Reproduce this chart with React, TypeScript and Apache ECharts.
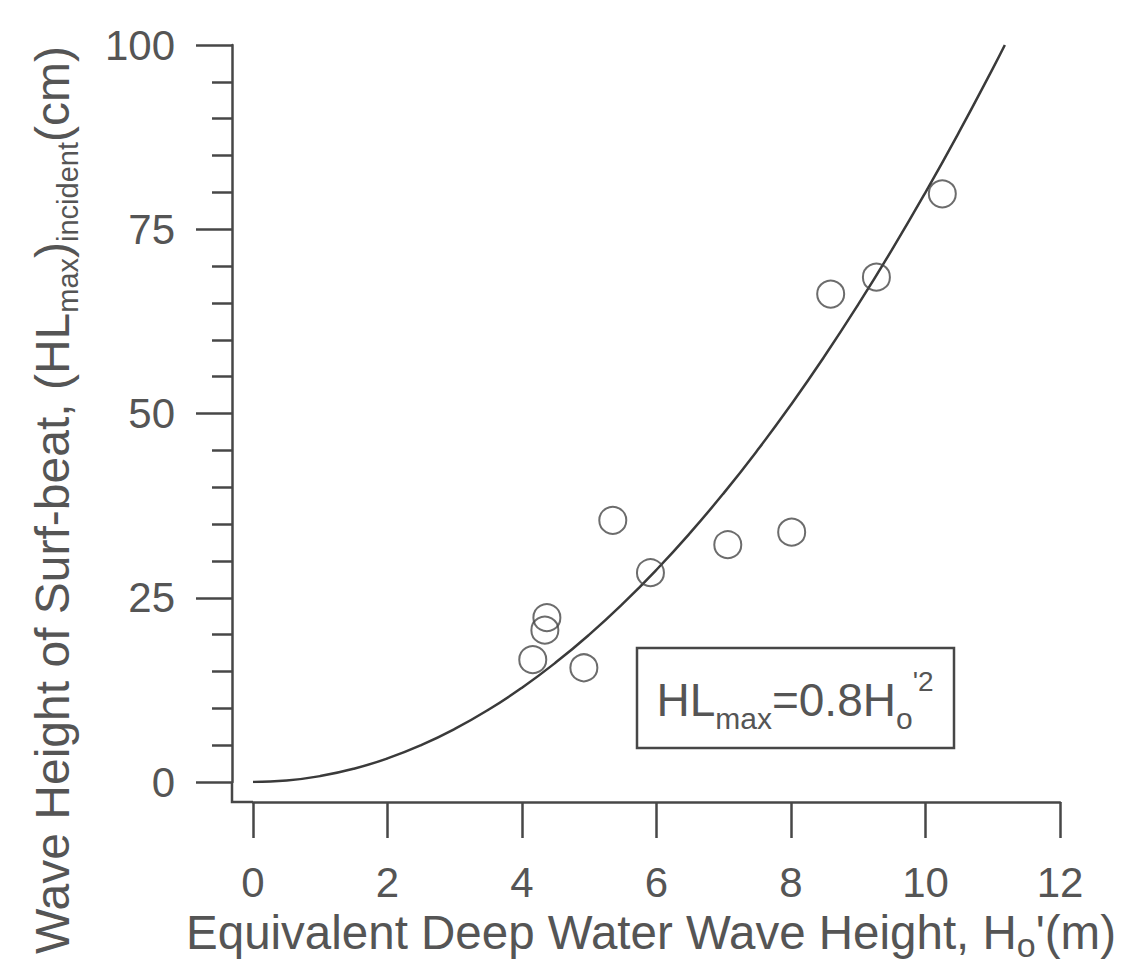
import React, { useEffect, useRef } from "react";
import * as echarts from "echarts";

// Observed data points: equivalent deep water wave height (m) vs surf-beat height (cm)
const obsX = [4.16, 4.34, 4.37, 4.92, 5.35, 5.91, 7.06, 8.01, 8.59, 9.27, 10.25];
const obsY = [16.6, 20.6, 22.3, 15.5, 35.5, 28.4, 32.2, 33.9, 66.2, 68.5, 79.8];

// Fitted curve HLmax = 0.8 Ho'^2 (values typed from the curve)
const curveX = [0, 0.5, 1, 1.5, 2, 2.5, 3, 3.5, 4, 4.5, 5, 5.5, 6, 6.5, 7, 7.5, 8, 8.5, 9, 9.5, 10, 10.5, 11, 11.18];
const curveY = [0, 0.2, 0.8, 1.8, 3.2, 5, 7.2, 9.8, 12.8, 16.2, 20, 24.2, 28.8, 33.8, 39.2, 45, 51.2, 57.8, 64.8, 72.2, 80, 88.2, 96.8, 100];

const xTicks = [0, 2, 4, 6, 8, 10, 12];
const yTicks = [0, 25, 50, 75, 100];

const FONT = "Liberation Sans, Arial, sans-serif";
const INK = "#474747";
const TXT = "#555555";

export default function App() {
  const ref = useRef<HTMLDivElement>(null);
  useEffect(() => {
    if (!ref.current) return;
    const chart = echarts.init(ref.current, undefined, { renderer: "svg" });
    const option: any = {
      animation: false,
      backgroundColor: "#ffffff",
      grid: { left: 253, right: 68, top: 45, bottom: 197, containLabel: false },
      xAxis: {
        type: "value",
        min: xTicks[0],
        max: xTicks[xTicks.length - 1],
        interval: 2,
        offset: 20,
        axisLine: { show: true, onZero: false, lineStyle: { color: INK, width: 2.5 } },
        axisTick: { show: true, inside: false, length: 36, lineStyle: { color: INK, width: 2.5 } },
        minorTick: { show: false },
        splitLine: { show: false },
        axisLabel: { show: true, margin: 59, color: TXT, fontSize: 42, fontFamily: FONT },
      },
      yAxis: {
        type: "value",
        min: yTicks[0],
        max: yTicks[yTicks.length - 1],
        interval: 25,
        offset: 21,
        axisLine: { show: true, onZero: false, lineStyle: { color: INK, width: 2.5 } },
        axisTick: { show: true, inside: false, length: 36, lineStyle: { color: INK, width: 2.5 } },
        minorTick: { show: true, splitNumber: 5, length: 20, lineStyle: { color: INK, width: 2.5 } },
        splitLine: { show: false },
        axisLabel: { show: true, margin: 57, color: TXT, fontSize: 42, fontFamily: FONT },
      },
      series: [
        {
          type: "line",
          data: curveX.map((x, i) => [x, curveY[i]]),
          smooth: true,
          showSymbol: false,
          symbol: "none",
          lineStyle: { color: "#3a3a3a", width: 2.5 },
          z: 2,
        },
        {
          type: "scatter",
          data: obsX.map((x, i) => [x, obsY[i]]),
          symbol: "circle",
          symbolSize: 27,
          itemStyle: { color: "rgba(0,0,0,0)", borderColor: INK, borderWidth: 2 },
          z: 3,
        },
      ],
      graphic: [
        {
          type: "polyline",
          shape: { points: [[232, 782], [232, 802], [253, 802]] },
          style: { stroke: INK, lineWidth: 2.5, fill: "none" },
        },
        {
          type: "text",
          x: 52,
          y: 500,
          rotation: Math.PI / 2,
          style: {
            text: "{a|Wave Height of Surf-beat, (HL}{s|max}{a|)}{s|incident}{a|(cm)}",
            align: "center",
            verticalAlign: "middle",
            fill: TXT,
            rich: {
              a: { fontSize: 48, fontFamily: FONT, fill: TXT, lineHeight: 60, verticalAlign: "middle" },
              s: { fontSize: 29, fontFamily: FONT, fill: TXT, verticalAlign: "bottom" },
            },
          },
        },
        {
          type: "text",
          x: 651,
          y: 932,
          style: {
            text: "{a|Equivalent Deep Water Wave Height, H}{s|o}{a|'(m)}",
            align: "center",
            verticalAlign: "middle",
            fill: TXT,
            rich: {
              a: { fontSize: 47.5, fontFamily: FONT, fill: TXT, lineHeight: 60, verticalAlign: "middle" },
              s: { fontSize: 34, fontFamily: FONT, fill: TXT, verticalAlign: "bottom" },
            },
          },
        },
        {
          type: "rect",
          shape: { x: 637, y: 648, width: 317, height: 100 },
          style: { stroke: INK, lineWidth: 2.5, fill: "none" },
        },
        {
          type: "text",
          x: 795,
          y: 700,
          style: {
            text: "{a|HL}{s|max}{a|=0.8H}{s|o}{p|'2}",
            align: "center",
            verticalAlign: "middle",
            fill: TXT,
            rich: {
              a: { fontSize: 46, fontFamily: FONT, fill: TXT, lineHeight: 66, verticalAlign: "middle" },
              s: { fontSize: 30, fontFamily: FONT, fill: TXT, verticalAlign: "bottom" },
              p: { fontSize: 28, fontFamily: FONT, fill: TXT, verticalAlign: "top" },
            },
          },
        },
      ],
    };
    chart.setOption(option);
    return () => chart.dispose();
  }, []);
  return (
    <div
      ref={ref}
      style={{ position: "fixed", left: 0, top: 0, width: 1128, height: 979 }}
    />
  );
}
